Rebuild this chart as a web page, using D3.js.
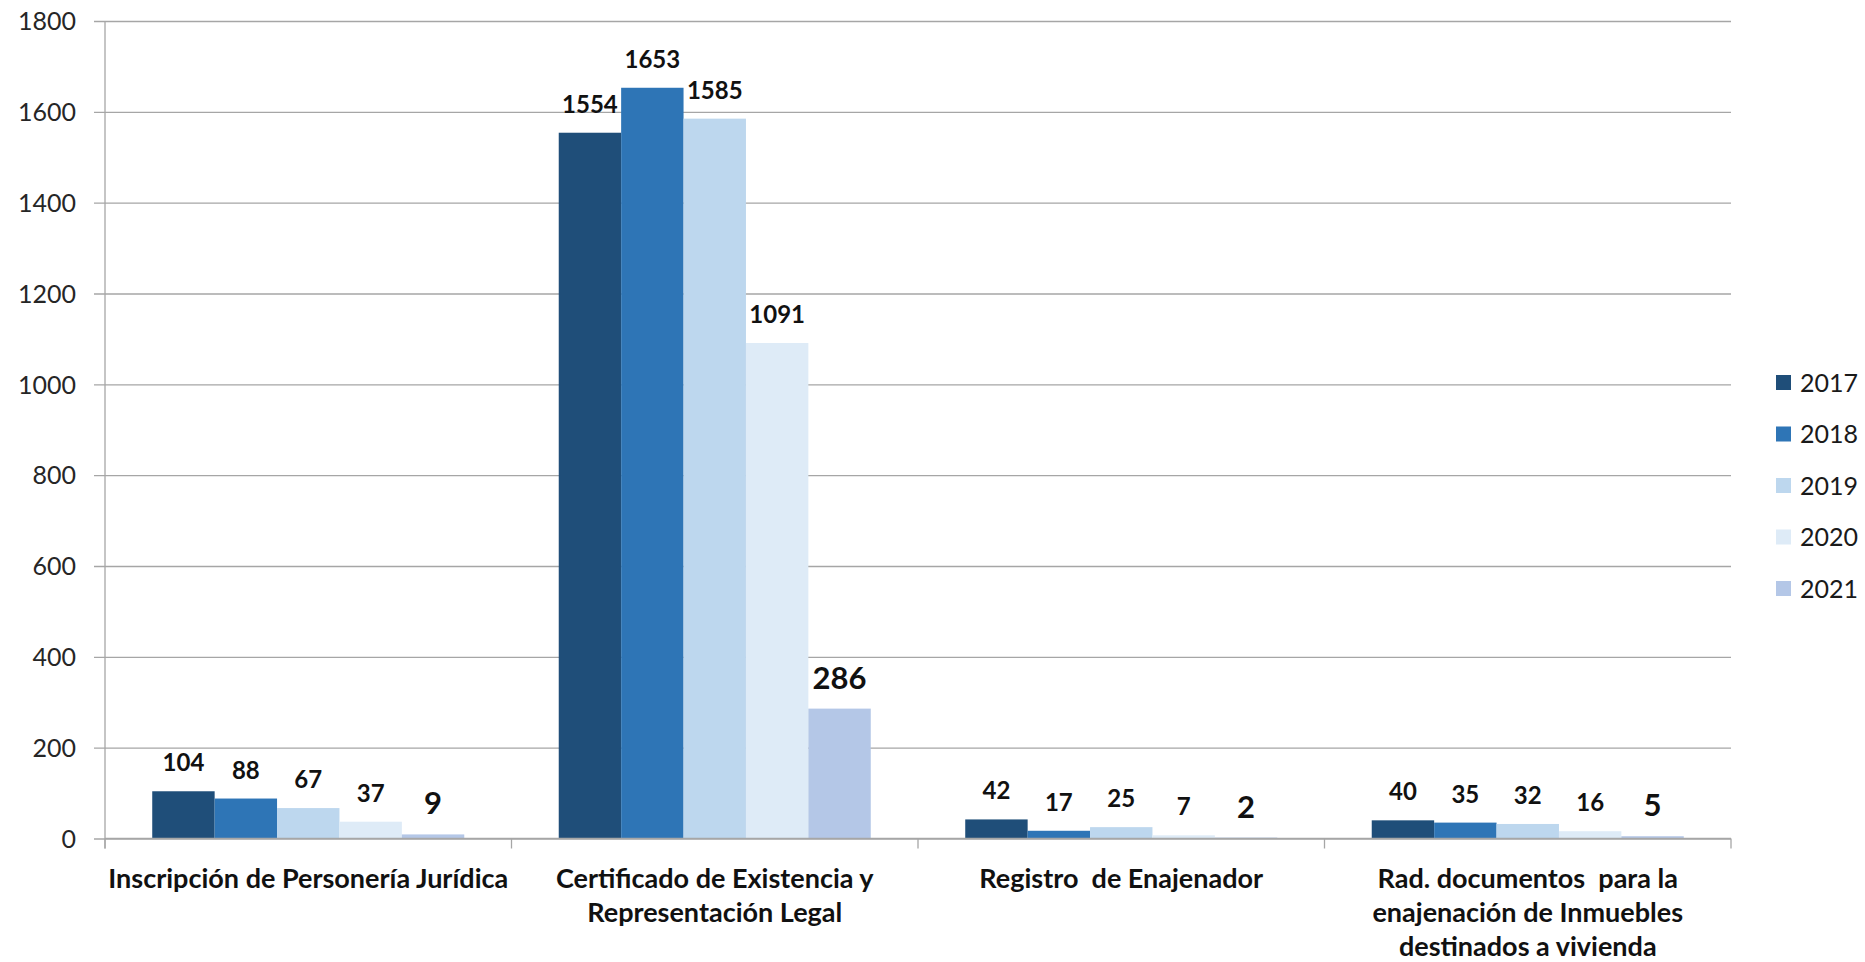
<!DOCTYPE html>
<html>
<head>
<meta charset="utf-8">
<script src="https://cdn.jsdelivr.net/npm/d3@7"></script>
<style>
  body { margin: 0; background: #fff; }
  text { font-family: Lato, "Open Sans", sans-serif; fill: #1a1a1a; }
</style>
</head>
<body>
<div class="chart"></div>
<script>
// Chart data
var categories = ["insc", "cert", "reg", "rad"];
var categoryLines = [
  ["Inscripción de Personería Jurídica"],
  ["Certificado de Existencia y", "Representación Legal"],
  ["Registro  de Enajenador"],
  ["Rad. documentos  para la", "enajenación de Inmuebles", "destinados a vivienda"]
];
var years = ["2017", "2018", "2019", "2020", "2021"];
var values2017 = [104, 1554, 42, 40];
var values2018 = [88, 1653, 17, 35];
var values2019 = [67, 1585, 25, 32];
var values2020 = [37, 1091, 7, 16];
var values2021 = [9, 286, 2, 5];
var yTicks = [0, 200, 400, 600, 800, 1000, 1200, 1400, 1600, 1800];

var colors = ["#1F4E79", "#2E75B6", "#BDD7EE", "#DEEBF7", "#B4C7E7"];
var seriesValues = [values2017, values2018, values2019, values2020, values2021];

// SVG area
var svgWidth = 1865;
var svgHeight = 962;
var plot = { left: 105, right: 1731, top: 21, bottom: 838.5 };

var svg = d3.select(".chart")
  .append("svg")
  .attr("width", svgWidth)
  .attr("height", svgHeight);

// Scales
var xScale = d3.scaleBand()
  .domain(categories)
  .range([plot.left, plot.right])
  .padding(0);

var xInner = d3.scaleBand()
  .domain(years)
  .range([0, xScale.bandwidth()])
  .paddingInner(0)
  .paddingOuter(0.757);

var yScale = d3.scaleLinear()
  .domain([0, 1800])
  .range([plot.bottom, plot.top]);

// Gridlines + left axis
var leftAxis = d3.axisLeft(yScale)
  .tickValues(yTicks)
  .tickFormat(d3.format("d"))
  .tickSize(plot.left - plot.right)
  .tickPadding(0);

var yAxisG = svg.append("g")
  .attr("transform", `translate(${plot.left}, 0)`)
  .call(leftAxis);
yAxisG.select(".domain").remove();
yAxisG.selectAll(".tick line")
  .attr("stroke", "#a6a6a6")
  .attr("stroke-width", 1.3)
  .attr("x1", -11);
yAxisG.selectAll(".tick text")
  .attr("x", -29)
  .attr("dy", "0.35em")
  .style("font-size", "25px")
  .style("fill", "#262626");

// Vertical axis line
svg.append("line")
  .attr("x1", plot.left).attr("x2", plot.left)
  .attr("y1", plot.top).attr("y2", plot.bottom + 10)
  .attr("stroke", "#a6a6a6")
  .attr("stroke-width", 1.3);

// Bottom axis ticks at category boundaries
var boundaries = categories.map(c => xScale(c)).concat([plot.right]);
svg.selectAll(".xtick")
  .data(boundaries)
  .enter()
  .append("line")
  .attr("class", "xtick")
  .attr("x1", d => d).attr("x2", d => d)
  .attr("y1", plot.bottom).attr("y2", plot.bottom + 10)
  .attr("stroke", "#a6a6a6")
  .attr("stroke-width", 1.3);

// Bars
var groups = svg.selectAll(".series")
  .data(seriesValues)
  .enter()
  .append("g")
  .attr("class", "series")
  .attr("fill", (d, i) => colors[i]);

groups.each(function(vals, si) {
  var g = d3.select(this);
  g.selectAll("rect")
    .data(vals)
    .enter()
    .append("rect")
    .attr("x", (d, ci) => xScale(categories[ci]) + xInner(years[si]))
    .attr("y", d => yScale(d))
    .attr("width", xInner.bandwidth())
    .attr("height", d => plot.bottom - yScale(d));

  g.selectAll("text")
    .data(vals)
    .enter()
    .append("text")
    .attr("x", (d, ci) => xScale(categories[ci]) + xInner(years[si]) + xInner.bandwidth() / 2)
    .attr("y", d => yScale(d) - 20)
    .attr("text-anchor", "middle")
    .style("font-weight", "bold")
    .style("font-size", si === 4 ? "31px" : "24px")
    .style("fill", "#111")
    .text(d => d);
});

// Redraw baseline over the bars
svg.append("line")
  .attr("x1", plot.left).attr("x2", plot.right)
  .attr("y1", plot.bottom).attr("y2", plot.bottom)
  .attr("stroke", "#a6a6a6")
  .attr("stroke-width", 1.3);

// Category labels
var catLabels = svg.selectAll(".catlabel")
  .data(categoryLines)
  .enter()
  .append("text")
  .attr("class", "catlabel")
  .attr("text-anchor", "middle")
  .attr("xml:space", "preserve")
  .style("white-space", "pre")
  .style("font-size", "27px")
  .style("font-weight", "bold")
  .style("fill", "#111");

catLabels.each(function(lines, ci) {
  var cx = xScale(categories[ci]) + xScale.bandwidth() / 2;
  d3.select(this).selectAll("tspan")
    .data(lines)
    .enter()
    .append("tspan")
    .attr("x", cx)
    .attr("y", (d, li) => 888 + li * 34)
    .text(d => d);
});

// Legend
var legend = svg.selectAll(".legend")
  .data(years)
  .enter()
  .append("g")
  .attr("class", "legend")
  .attr("transform", (d, i) => `translate(1776, ${383 + i * 51.5})`);

legend.append("rect")
  .attr("x", 0)
  .attr("y", -8)
  .attr("width", 15)
  .attr("height", 15)
  .attr("fill", (d, i) => colors[i]);

legend.append("text")
  .attr("x", 24)
  .attr("dy", "0.35em")
  .style("font-size", "25px")
  .style("fill", "#1a1a1a")
  .text(d => d);
</script>
</body>
</html>
